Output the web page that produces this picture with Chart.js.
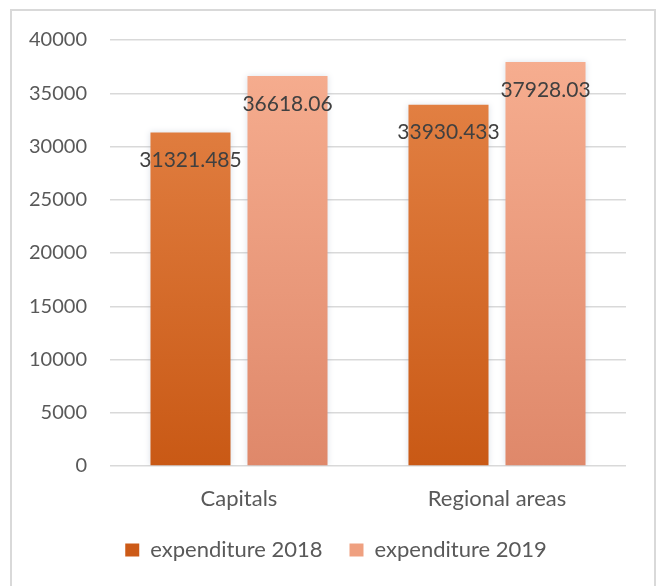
<!DOCTYPE html>
<html>
<head>
<meta charset="utf-8">
<script src="https://cdn.jsdelivr.net/npm/chart.js@4/dist/chart.umd.min.js"></script>
<style>
  html, body { margin: 0; padding: 0; background: #fff; }
  #chart { display: block; }
</style>
</head>
<body>
<canvas id="chart" width="658" height="586"></canvas>
<script>
// ===== Data =====
const categories = ["Capitals", "Regional areas"];
const seriesNames = ["expenditure 2018", "expenditure 2019"];
const expenditure2018 = [31321.485, 33930.433];
const expenditure2019 = [36618.06, 37928.03];
const yTicks = [0, 5000, 10000, 15000, 20000, 25000, 30000, 35000, 40000];

// ===== Colours =====
const color2018 = ["#e6864a", "#c95915"];
const color2019 = ["#f7af91", "#df886a"];
const legendColors = ["#cc5a17", "#efa080"];
const textColor = "#595959";
const gridColor = "#d9d9d9";

// vertical gradient across the plot area
function barGradient(stops) {
  return (ctx) => {
    const area = ctx.chart.chartArea;
    if (!area) return stops[1];
    const g = ctx.chart.ctx.createLinearGradient(0, area.top, 0, area.bottom);
    g.addColorStop(0, stops[0]);
    g.addColorStop(1, stops[1]);
    return g;
  };
}

// ===== Outer frame =====
const framePlugin = {
  id: "frame",
  beforeDraw(chart) {
    const c = chart.ctx;
    c.save();
    c.fillStyle = "#fff";
    c.fillRect(0, 0, chart.width, chart.height);
    c.strokeStyle = "#d9d9d9";
    c.lineWidth = 2;
    c.strokeRect(11, 10, 644, 600);
    c.restore();
  }
};

// soft glow round the bars
const barShadow = {
  id: "barShadow",
  beforeDatasetsDraw(chart) {
    const c = chart.ctx;
    c.save();
    c.shadowColor = "rgba(120, 140, 170, 0.25)";
    c.shadowBlur = 6;
  },
  afterDatasetsDraw(chart) {
    chart.ctx.restore();
  }
};

// legend: short reserved height, then placed under the plot with wide item gaps
const legendHeight = 41;
const legendPlace = {
  id: "legendPlace",
  beforeLayout(chart) {
    const lg = chart.legend;
    if (lg && !lg._fixedFit) {
      const fit = lg.fit;
      lg.fit = function () { fit.call(this); this.height = legendHeight; };
      lg._fixedFit = true;
    }
  },
  afterLayout(chart) {
    const lg = chart.legend;
    if (!lg) return;
    lg.left = 46;
    lg.right = 626;
    lg.top = 512;
    lg.bottom = 586;
    lg.width = lg.right - lg.left;
    lg.height = lg.bottom - lg.top;
  }
};

// ===== Value labels just under the bar tops =====
const valueLabels = {
  id: "valueLabels",
  afterDatasetsDraw(chart) {
    const c = chart.ctx;
    c.save();
    c.font = "21px Lato";
    c.fillStyle = "#404040";
    c.textAlign = "center";
    c.textBaseline = "middle";
    chart.data.datasets.forEach((ds, i) => {
      chart.getDatasetMeta(i).data.forEach((bar, j) => {
        c.fillText(String(ds.data[j]), bar.x, bar.y + 28);
      });
    });
    c.restore();
  }
};

new Chart(document.getElementById("chart"), {
  type: "bar",
  data: {
    labels: categories,
    datasets: [
      { label: seriesNames[0], data: expenditure2018, backgroundColor: barGradient(color2018) },
      { label: seriesNames[1], data: expenditure2019, backgroundColor: barGradient(color2019) }
    ]
  },
  options: {
    responsive: false,
    animation: false,
    devicePixelRatio: 1,
    categoryPercentage: 0.752,
    barPercentage: 0.825,
    layout: { padding: { top: 40, right: 32, bottom: 15, left: 0 } },
    plugins: {
      tooltip: { enabled: false },
      legend: {
        position: "bottom",
        labels: {
          font: { family: "Lato", size: 22 },
          color: textColor,
          boxWidth: 14,
          boxHeight: 13,
          padding: 27,
          generateLabels: (chart) => chart.data.datasets.map((ds, i) => ({
            text: ds.label,
            fillStyle: legendColors[i],
            strokeStyle: legendColors[i],
            lineWidth: 0,
            fontColor: textColor,
            hidden: false,
            datasetIndex: i
          }))
        }
      }
    },
    scales: {
      x: {
        grid: { display: false },
        border: { display: false },
        ticks: { font: { family: "Lato", size: 22 }, color: textColor, padding: 12 },
        afterFit: (scale) => { scale.height = 64; }
      },
      y: {
        min: 0,
        max: 40000,
        afterBuildTicks: (scale) => { scale.ticks = yTicks.map(v => ({ value: v })); },
        grid: { color: gridColor, lineWidth: 1.5, drawTicks: false },
        border: { display: false },
        ticks: {
          font: { family: "Lato", size: 20 },
          color: textColor,
          padding: 23,
          callback: (v) => String(v)
        },
        afterFit: (scale) => { scale.width = 110; }
      }
    }
  },
  plugins: [framePlugin, legendPlace, barShadow, valueLabels]
});
</script>
</body>
</html>
